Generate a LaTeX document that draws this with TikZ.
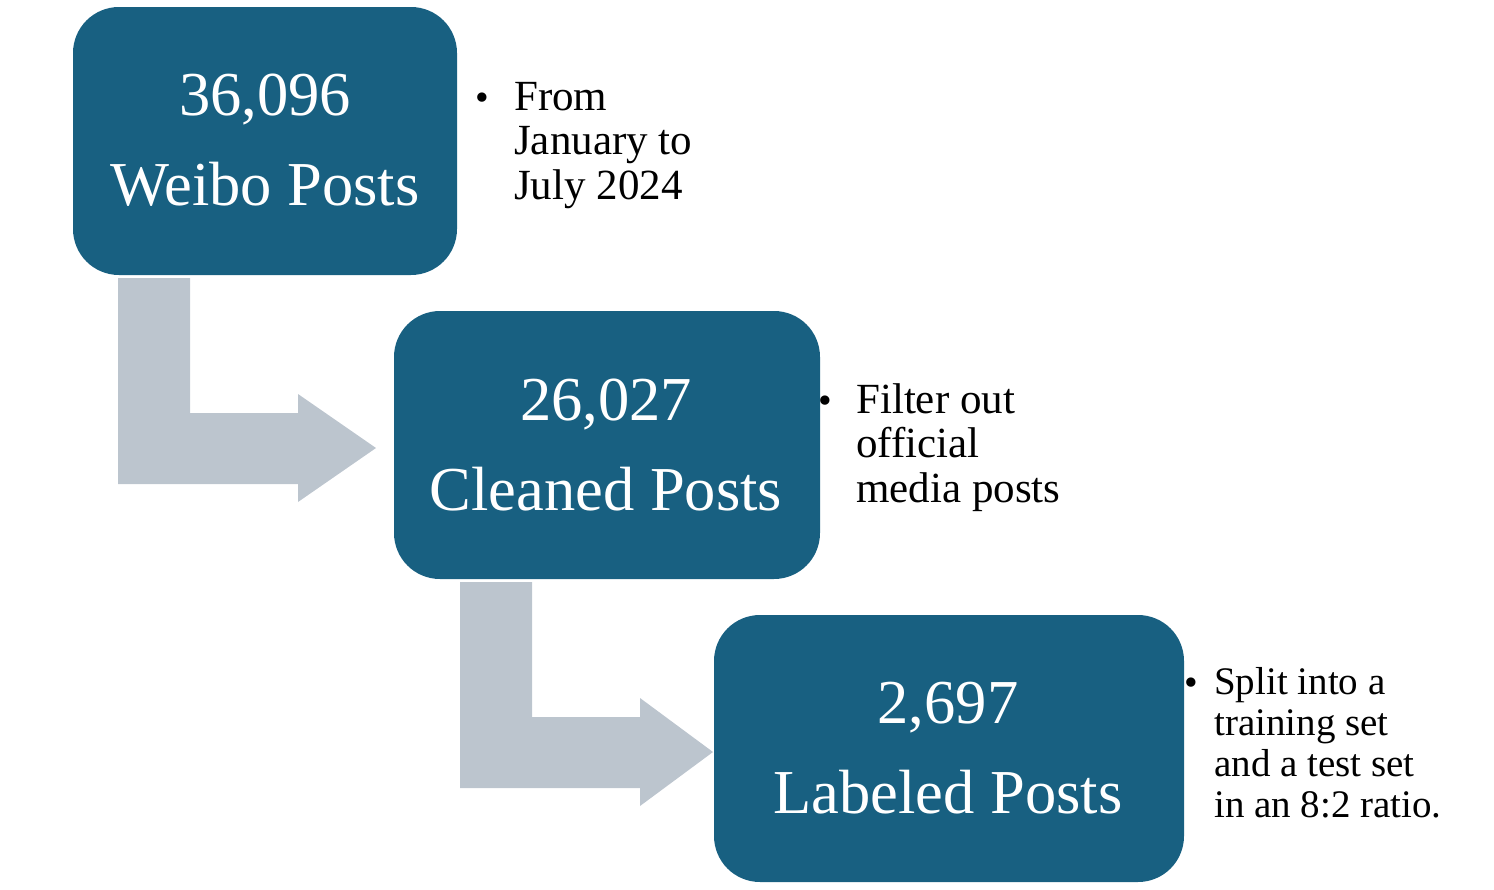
\documentclass[tikz,border=0pt]{standalone}
\usepackage{fontspec}
\setmainfont{Liberation Serif}
\definecolor{boxblue}{HTML}{186081}
\definecolor{arrowgray}{HTML}{BCC5CE}
\begin{document}
\begin{tikzpicture}[x=1pt,y=-1pt,
  stagebox/.style={fill=boxblue, rounded corners=46pt, inner sep=0pt, draw=none},
  boxtext/.style={text=white, font=\fontsize{62.5}{90}\selectfont, align=center, anchor=base, inner sep=0pt},
  notetext/.style={text=black, font=\fontsize{43}{44.5}\selectfont, align=left, anchor=base west, inner sep=0pt},
  notesmall/.style={text=black, font=\fontsize{39}{40.7}\selectfont, align=left, anchor=base west, inner sep=0pt},
  bulletdot/.style={text=black, font=\fontsize{39}{45}\selectfont, anchor=base, inner sep=0pt},
  bentarrow/.style={fill=arrowgray, draw=none}]
\useasboundingbox (0,0) rectangle (1494,889);
% boxes
\path[stagebox] (73,7) rectangle (457,275);
\path[stagebox] (394,311) rectangle (820,579);
\path[stagebox] (714,615) rectangle (1184,882);
% bent arrows
\fill[bentarrow] (118,278) -- (190,278) -- (190,413) -- (298,413) -- (298,394) -- (376,448) -- (298,502) -- (298,484) -- (118,484) -- cycle;
\fill[bentarrow] (460,582) -- (532,582) -- (532,717) -- (640,717) -- (640,698) -- (713,752) -- (640,806) -- (640,788) -- (460,788) -- cycle;
% box texts (base anchor = baseline of last line)
\node[boxtext] (t1) at (265,205) {36,096\\Weibo Posts};
\node[boxtext] (t2) at (606,510) {26,027\\Cleaned Posts};
\node[boxtext] (t3) at (948,813) {2,697\\Labeled Posts};
% notes
\node[bulletdot] (d1) at (482,110) {•};
\node[notetext] (n1) at (514,199) {From\\January to\\July 2024};
\node[bulletdot] (d2) at (825,413) {•};
\node[notetext] (n2) at (856,502) {Filter out\\official\\media posts};
\node[bulletdot] (d3) at (1191,695) {•};
\node[notesmall] (n3) at (1214,817) {Split into a\\training set\\and a test set\\in an 8:2 ratio.};
\end{tikzpicture}
\end{document}
